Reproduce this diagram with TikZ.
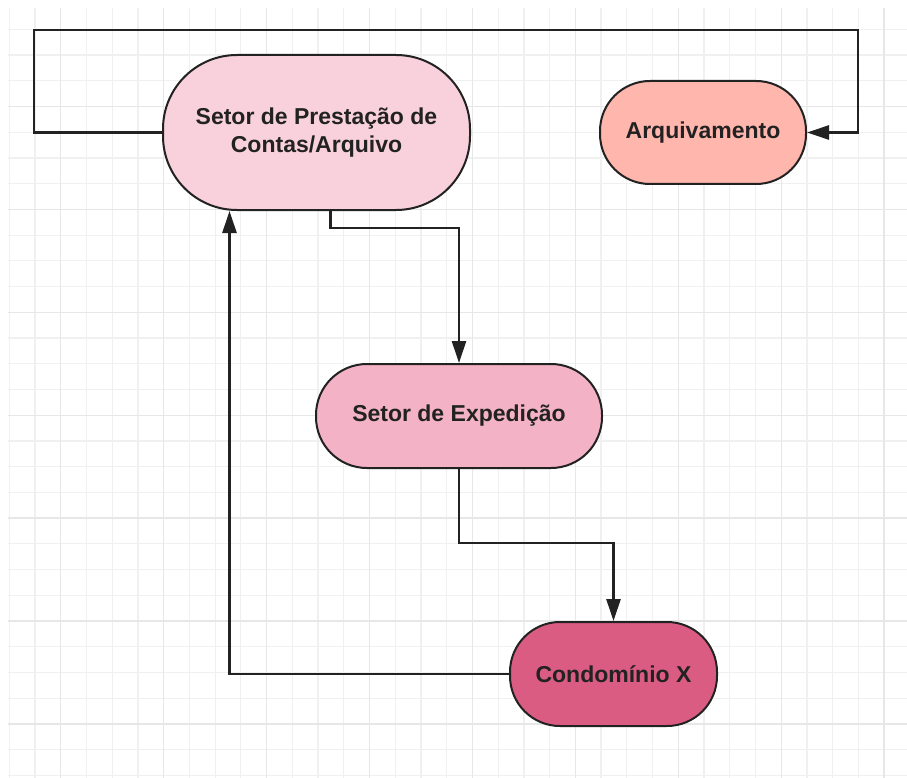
\documentclass[tikz,border=0pt]{standalone}
\usepackage{fontspec}
\setmainfont{Liberation Sans}
\usepackage{xcolor}
\usetikzlibrary{arrows.meta}

\definecolor{prestpink}{HTML}{F9D1DC}
\definecolor{arqsalmon}{HTML}{FFB6AD}
\definecolor{exppink}{HTML}{F3B2C6}
\definecolor{condrose}{HTML}{DB5C82}
\definecolor{edgegray}{HTML}{222222}
\definecolor{gridminor}{HTML}{F0F0F0}
\definecolor{gridmajor}{HTML}{E7E7E7}

\tikzset{
  box/.style={draw=edgegray, line width=2pt, inner sep=0pt, align=center,
    font=\bfseries\fontsize{23}{27.5}\selectfont, text=edgegray},
  flow/.style={draw=edgegray, line width=2.6pt, -{Triangle[length=22pt, width=14pt]}},
}

\begin{document}
\begin{tikzpicture}[x=1pt, y=-1pt]
  \useasboundingbox[fill=white] (0,0) rectangle (907,778);

  % background grid
  \foreach \k in {0,...,34} {
    \draw[gridminor, line width=1.2pt] ({9.3+25.73*\k},8) -- ({9.3+25.73*\k},778);
  }
  \foreach \k in {-11,...,18} {
    \draw[gridminor, line width=1.2pt] (7.5,{312.3+25.73*\k}) -- (907,{312.3+25.73*\k});
  }
  \foreach \k in {2,6,...,34} {
    \draw[gridmajor, line width=1.4pt] ({9.3+25.73*\k},8) -- ({9.3+25.73*\k},778);
  }
  \foreach \k in {-8,-4,...,16} {
    \draw[gridmajor, line width=1.4pt] (7.5,{312.3+25.73*\k}) -- (907,{312.3+25.73*\k});
  }

  % boxes
  \node[box, fill=prestpink, minimum width=307pt, minimum height=155pt,
    rounded corners=74pt] (prest) at (316.5,132.5) {Setor de Prestação de\\Contas/Arquivo};
  \node[box, fill=arqsalmon, minimum width=206pt, minimum height=103pt,
    rounded corners=50pt] (arq) at (703,132.5) {Arquivamento};
  \node[box, fill=exppink, minimum width=286pt, minimum height=104pt,
    rounded corners=51pt] (exped) at (459,416) {Setor de Expedição};
  \node[box, fill=condrose, minimum width=207pt, minimum height=104pt,
    rounded corners=50pt] (cond) at (613.5,674) {Condomínio X};

  \coordinate (loopL) at (34,30);
  \coordinate (loopR) at (858,30);

  % connectors
  \draw[flow] (prest.west) -| (loopL) -- (loopR) |- (arq.east);
  \draw[flow] ([xshift=14pt]prest.south) -- ++(0,17) -| (exped.north);
  \draw[flow] (exped.south) -- ++(0,74) -| (cond.north);
  \draw[flow] (cond.west) -| ([xshift=-87pt]prest.south);
\end{tikzpicture}
\end{document}
